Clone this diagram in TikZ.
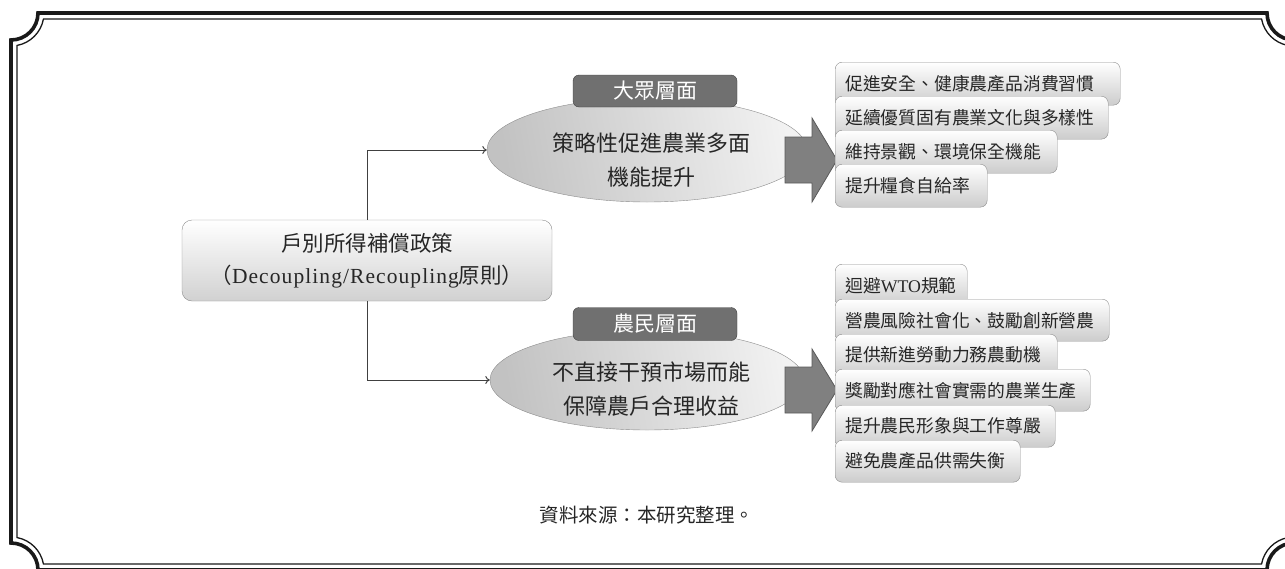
\documentclass[tikz,border=0pt]{standalone}
\usepackage{fontspec}
\setmainfont{Liberation Serif}
\newfontfamily\cjk{Noto Sans CJK TC}
\usetikzlibrary{shapes.geometric,arrows.meta}
\newcommand\latwide[1]{{\rmfamily\addfontfeatures{LetterSpace=5}#1}}
\newcommand\latn[1]{{\rmfamily #1}}
\tikzset{
  frameouter/.style={line width=3.6pt, black!90},
  frameinner/.style={line width=1.3pt, black!90},
  conn/.style={draw=black!75, line width=1pt, -{To[length=4.5pt,width=8pt]}},
  mainbox/.style={draw=black!45, rounded corners=10pt, top color=white, bottom color=black!18,
    minimum width=370pt, minimum height=81pt, align=center, inner sep=0pt,
    font=\cjk\fontsize{21.5}{32}\selectfont, text=black!85},
  ellbox/.style={ellipse, draw=black!45, shading=axis, left color=black!24, right color=black!5, shading angle=100, inner sep=0pt},
  etext/.style={align=center, inner sep=0pt, font=\cjk\fontsize{22}{34}\selectfont, text=black!85},
  lab/.style={draw=black!75, fill=black!56, rounded corners=6pt, minimum width=164pt,
    minimum height=32pt, inner sep=0pt, text=white, font=\cjk\fontsize{21}{24}\selectfont},
  blockarrow/.style={draw=black!65, fill=black!50, line width=0.8pt},
  item/.style={draw=black!45, rounded corners=7pt, top color=white, bottom color=black!20,
    anchor=north west, minimum height=43pt, inner xsep=10pt, inner ysep=0pt, align=left,
    font=\cjk\fontsize{17.8}{20}\selectfont, text=black!85},
  srctext/.style={inner sep=0pt, font=\cjk\fontsize{19.5}{22}\selectfont, text=black!85}
}
\begin{document}
\begin{tikzpicture}[x=1pt,y=1pt]
\useasboundingbox (0,0) rectangle (1285,-568);
\clip (0,0) rectangle (1285,-568);
% frame
\draw[frameouter] (38,-13) -- (1267,-13) arc[start angle=180,end angle=270,radius=27]
  -- (1294,-543) arc[start angle=90,end angle=180,radius=27]
  -- (38,-570) arc[start angle=0,end angle=90,radius=27]
  -- (11,-40) arc[start angle=270,end angle=360,radius=27] -- cycle;
\draw[frameinner] (43.45,-19) -- (1261.55,-19) arc[start angle=190.48,end angle=259.52,radius=33]
  -- (1288,-537.55) arc[start angle=100.48,end angle=169.52,radius=33]
  -- (43.45,-564) arc[start angle=10.48,end angle=79.52,radius=33]
  -- (17,-45.45) arc[start angle=280.48,end angle=349.52,radius=33] -- cycle;

% main box
\node[mainbox] (main) at (367,-260.5) {戶別所得補償政策\\（\latwide{Decoupling/Recoupling}原則）};

% ellipses
\node[ellbox, minimum width=320pt, minimum height=104pt] (e1) at (647,-150) {};
\node[ellbox, minimum width=314pt, minimum height=100pt] (e2) at (647,-380) {};

% connectors
\draw[conn] (main.north) |- (e1.west);
\draw[conn] (main.south) |- (e2.west);

% layer labels
\node[lab] (l1) at (655,-91) {大眾層面};
\node[lab, minimum height=33pt] (l2) at (655,-324) {農民層面};

% ellipse texts
\node[etext] (t1) at (651,-160) {策略性促進農業多面\\機能提升};
\node[etext] (t2) at (651,-389.5) {不直接干預市場而能\\保障農戶合理收益};

% block arrows
\draw[blockarrow] (785,-137) -- (812,-137) -- (812,-118) -- (837,-160) -- (812,-202) -- (812,-183) -- (785,-183) -- cycle;
\draw[blockarrow] (785,-367) -- (812,-367) -- (812,-349) -- (837,-390) -- (812,-431) -- (812,-413) -- (785,-413) -- cycle;

% top items
\node[item, text width=265pt] (a1) at (835,-62) {促進安全、健康農產品消費習慣};
\node[item, text width=253pt] (a2) at (835,-96) {延續優質固有農業文化與多樣性};
\node[item, text width=202pt] (a3) at (835,-130) {維持景觀、環境保全機能};
\node[item, text width=132pt] (a4) at (835,-164) {提升糧食自給率};

% bottom items
\node[item, text width=112pt, minimum height=42pt] (b1) at (835,-264) {迴避\latn{WTO}規範};
\node[item, text width=254pt, minimum height=42pt] (b2) at (835,-299) {營農風險社會化、鼓勵創新營農};
\node[item, text width=202pt, minimum height=42pt] (b3) at (835,-334) {提供新進勞動力務農動機};
\node[item, text width=235pt, minimum height=42pt] (b4) at (835,-369) {獎勵對應社會實需的農業生產};
\node[item, text width=200pt, minimum height=42pt] (b5) at (835,-405) {提升農民形象與工作尊嚴};
\node[item, text width=165pt, minimum height=42pt] (b6) at (835,-440) {避免農產品供需失衡};

% source
\node[srctext] (src) at (647,-515) {資料來源：本研究整理。};
\end{tikzpicture}
\end{document}
